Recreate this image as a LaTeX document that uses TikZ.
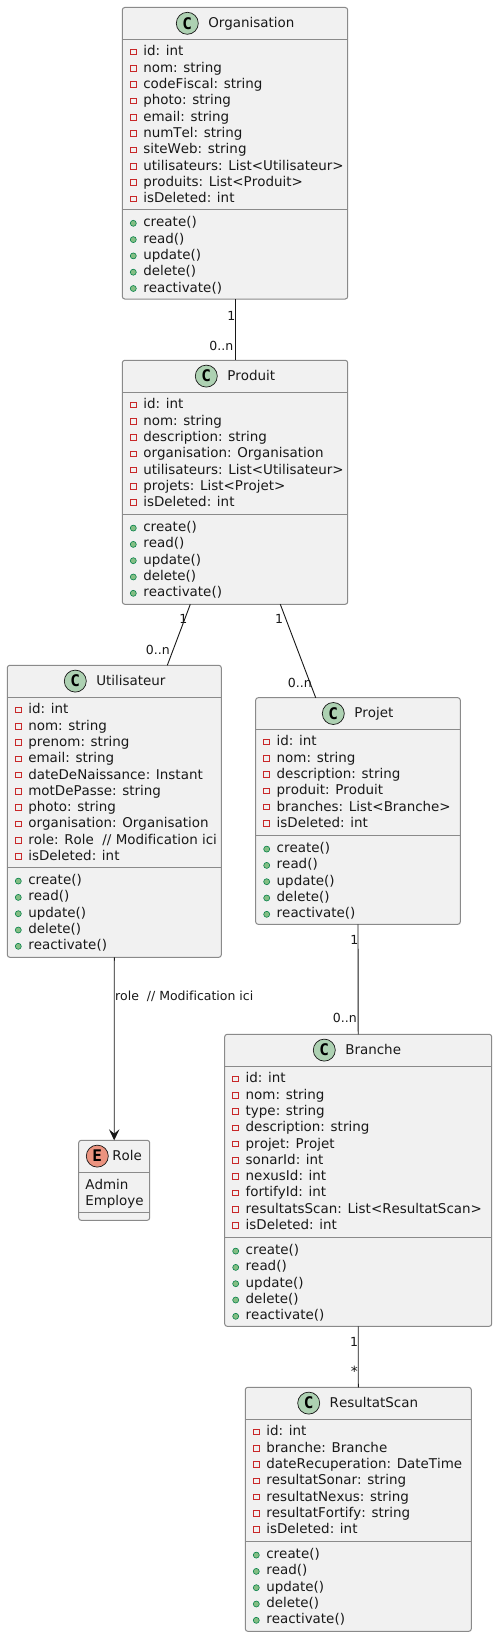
\documentclass[tikz,border=0pt]{standalone}
\usepackage{fontspec}
\setmainfont{DejaVu Sans}[Ligatures=NoCommon,Kerning=Off]
\newfontfamily\glyphfont{DejaVu Sans Mono}[Kerning=Off]
\usetikzlibrary{arrows.meta}
\definecolor{umlfill}{HTML}{F1F1F1}
\definecolor{umlborder}{HTML}{8A8A8A}
\definecolor{umlink}{HTML}{181818}
\definecolor{umlc}{HTML}{ADD1B2}
\definecolor{umle}{HTML}{EB937F}
\definecolor{umlpriv}{HTML}{C82829}
\definecolor{umlpubf}{HTML}{84BE84}
\definecolor{umlpubd}{HTML}{038048}
\tikzset{
  umlbox/.style={draw=umlborder,fill=umlfill,line width=1pt,rounded corners=2.5pt,inner sep=0pt,outer sep=0pt,anchor=north west},
  umlrule/.style={draw=umlborder,line width=1pt},
  umltext/.style={font=\fontsize{13.45}{16}\selectfont,text=umlink,inner sep=0pt,outer sep=0pt,anchor=base west},
  umlspot/.style={circle,draw=umlink,line width=0.7pt,minimum size=22pt,inner sep=0pt,outer sep=0pt,font=\fontsize{16}{16}\selectfont\glyphfont\bfseries,text=black},
  privicon/.style={rectangle,draw=umlpriv,line width=0.9pt,minimum size=5.6pt,inner sep=0pt,outer sep=0pt},
  pubicon/.style={circle,draw=umlpubd,fill=umlpubf,line width=0.6pt,minimum size=6pt,inner sep=0pt,outer sep=0pt},
  assoc/.style={draw=umlink,line width=0.9pt},
  cardlabel/.style={font=\fontsize{12.5}{14}\selectfont,text=umlink,inner sep=0pt,outer sep=0pt},
}
% id, x1, x2, ytop, yrule1, yrule2, ybottom, circle x, title
\newcommand\umlclass[9]{%
  \node[umlbox,minimum width={(#3-#2)*1pt},minimum height={(#7-#4)*1pt}] (#1) at (#2,#4) {};
  \draw[umlrule] (#2,#5) -- (#3,#5);
  \draw[umlrule] (#2,#6) -- (#3,#6);
  \node[umlspot,fill=umlc] (#1-spot) at (#8,#4+15.8) {C};
  \node[umltext] (#1-title) at (#8+21,#4+20.2) {#9};
}
% id, x1, rule y, list
\newcommand\umlattrs[4]{%
  \foreach \rowtxt [count=\i] in {#4} {
    \node[privicon] (#1-ai\i) at (#2+11,{#3+12.6+(\i-1)*16.3}) {};
    \node[umltext] (#1-a\i) at (#2+21,{#3+16.5+(\i-1)*16.3}) {\rowtxt};
  }
}
\newcommand\umlmeths[3]{%
  \foreach \rowtxt [count=\i] in {create(),read(),update(),delete(),reactivate()} {
    \node[pubicon] (#1-mi\i) at (#2+11,{#3+13.8+(\i-1)*16.3}) {};
    \node[umltext] (#1-m\i) at (#2+21,{#3+17.3+(\i-1)*16.3}) {\rowtxt};
  }
}
\begin{document}
\begin{tikzpicture}[x=1pt,y=-1pt]
\useasboundingbox (0,0) rectangle (497,1637);
\fill[white] (0,0) rectangle (497,1637);

\umlclass{org}{122.3}{347.7}{7.5}{39.5}{209.5}{299}{187.3}{Organisation}
\umlattrs{org}{122.3}{39.5}{id: int,nom: string,codeFiscal: string,photo: string,email: string,numTel: string,siteWeb: string,utilisateurs: List<Utilisateur>,produits: List<Produit>,isDeleted: int}
\umlmeths{org}{122.3}{209.5}

\umlclass{prod}{122.3}{347.7}{360.3}{392.3}{514.3}{604.3}{206.3}{Produit}
\umlattrs{prod}{122.3}{392.3}{id: int,nom: string,description: string,organisation: Organisation,utilisateurs: List<Utilisateur>,projets: List<Projet>,isDeleted: int}
\umlmeths{prod}{122.3}{514.3}

\umlclass{util}{7.3}{221.3}{665.3}{697.3}{867.3}{957.3}{75.3}{Utilisateur}
\umlattrs{util}{7.3}{697.3}{id: int,nom: string,prenom: string,email: string,dateDeNaissance: Instant,motDePasse: string,photo: string,organisation: Organisation,role: Role\ \ // Modification ici,isDeleted: int}
\umlmeths{util}{7.3}{867.3}

\umlclass{proj}{255.7}{460.3}{697.7}{729.3}{835.3}{924.3}{333.3}{Projet}
\umlattrs{proj}{255.7}{729.3}{id: int,nom: string,description: string,produit: Produit,branches: List<Branche>,isDeleted: int}
\umlmeths{proj}{255.7}{835.3}

\umlclass{bran}{224.7}{491.7}{1034.3}{1066.3}{1237.3}{1326.3}{324.3}{Branche}
\umlattrs{bran}{224.7}{1066.3}{id: int,nom: string,type: string,description: string,projet: Projet,sonarId: int,nexusId: int,fortifyId: int,resultatsScan: List<ResultatScan>,isDeleted: int}
\umlmeths{bran}{224.7}{1237.3}

\umlclass{scan}{245.3}{471.3}{1387.3}{1419.3}{1541.3}{1631.3}{308.7}{ResultatScan}
\umlattrs{scan}{245.3}{1419.3}{id: int,branche: Branche,dateRecuperation: DateTime,resultatSonar: string,resultatNexus: string,resultatFortify: string,isDeleted: int}
\umlmeths{scan}{245.3}{1541.3}

% Role enum
\node[umlbox,minimum width=71pt,minimum height=80pt] (role) at (78.7,1140.3) {};
\draw[umlrule] (78.7,1172.3) -- (149.7,1172.3);
\draw[umlrule] (78.7,1212.3) -- (149.7,1212.3);
\node[umlspot,fill=umle] (role-spot) at (97.3,1156.1) {E};
\node[umltext] (role-title) at (112.3,1160.5) {Role};
\node[umltext] (role-a1) at (85.3,1189) {Admin};
\node[umltext] (role-a2) at (85.3,1205.5) {Employe};

% connectors
\draw[assoc] (org.south) -- (prod.north);
\draw[assoc] ([xshift=-44.7pt]prod.south) -- ([xshift=53pt]util.north);
\draw[assoc] ([xshift=45.3pt]prod.south) -- ([xshift=-42.3pt]proj.north);
\draw[assoc] (proj.south) -- (bran.north);
\draw[assoc] (bran.south) -- (scan.north);
\draw[assoc,-{Stealth[length=11pt,width=10.5pt,inset=4.3pt]}] (util.south) -- (role.north);

% labels
\node[cardlabel] (l1) at (231.3,315.7) {1};
\node[cardlabel,anchor=east] (l2) at (233.3,345.7) {0..n};
\node[cardlabel] (l3) at (183.3,619.3) {1};
\node[cardlabel,anchor=east] (l4) at (169.7,649.7) {0..n};
\node[cardlabel] (l5) at (279,619.3) {1};
\node[cardlabel,anchor=east] (l6) at (311.7,682.7) {0..n};
\node[cardlabel] (l7) at (354.3,940.3) {1};
\node[cardlabel,anchor=east] (l8) at (356.7,1018.3) {0..n};
\node[cardlabel] (l9) at (354,1342.3) {1};
\node[cardlabel,font=\fontsize{14}{14}\selectfont] (l10) at (354.3,1371) {*};
\node[cardlabel,anchor=west] (l11) at (115,996.7) {role\ \ // Modification ici};
\end{tikzpicture}
\end{document}
